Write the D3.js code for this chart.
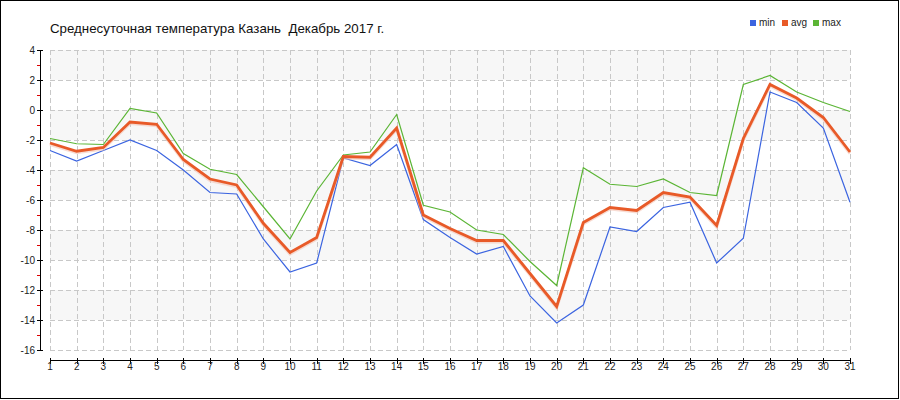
<!DOCTYPE html>
<html><head><meta charset="utf-8">
<script src="https://cdn.jsdelivr.net/npm/d3@7"></script>
<style>body{margin:0;background:#fff}svg{display:block}</style>
</head><body><svg id="c" width="900" height="400"></svg>
<script>
const title = "Среднесуточная температура Казань  Декабрь 2017 г.";
const days = d3.range(1, 32);
const minT = [-2.7,-3.4,-2.7,-2.0,-2.7,-4.0,-5.5,-5.6,-8.6,-10.8,-10.2,-3.2,-3.7,-2.3,-7.3,-8.5,-9.6,-9.1,-12.4,-14.2,-13.0,-7.8,-8.1,-6.5,-6.15,-10.2,-8.55,1.2,0.5,-1.2,-6.15];
const avgT = [-2.2,-2.75,-2.5,-0.8,-0.95,-3.3,-4.6,-5.0,-7.55,-9.5,-8.5,-3.1,-3.15,-1.2,-7.0,-7.9,-8.7,-8.7,-10.9,-13.1,-7.5,-6.5,-6.7,-5.5,-5.8,-7.7,-1.9,1.7,0.8,-0.5,-2.8];
const maxT = [-1.9,-2.25,-2.3,0.1,-0.2,-2.9,-3.95,-4.3,-6.45,-8.6,-5.4,-3.0,-2.8,-0.3,-6.35,-6.8,-8.0,-8.3,-10.1,-11.7,-3.85,-4.95,-5.1,-4.6,-5.5,-5.7,1.7,2.3,1.2,0.5,-0.1];
const yTicks = d3.range(-16, 5, 2);
const yMinor = d3.range(-15, 4, 2);
const seriesNames = ["min","avg","max"];
const colors = {min:"#3b64e0", avg:"#e85a28", max:"#5bb535"};

const svg = d3.select("#c");
svg.append("rect").attr("x",0.5).attr("y",0.5).attr("width",898).attr("height",398)
  .attr("fill","#fff").attr("stroke","#000");

const x = d3.scaleLinear().domain([1,31]).range([50,850]);
const y = d3.scaleLinear().domain([-16,4]).range([350,50]);

// bands
const bands = [[2,4],[-2,0],[-6,-4],[-10,-8],[-14,-12]];
svg.append("g").selectAll("rect").data(bands).join("rect")
  .attr("x", x(1)).attr("width", x(31)-x(1))
  .attr("y", d=>y(d[1])).attr("height", d=>y(d[0])-y(d[1]))
  .attr("fill","#f7f7f7");

// grid
const grid = svg.append("g").attr("stroke","#c8c8c8").attr("stroke-dasharray","5,3").attr("shape-rendering","crispEdges");
grid.selectAll("line.v").data(days).join("line").attr("class","v")
  .attr("x1",d=>Math.round(x(d))+0.5).attr("x2",d=>Math.round(x(d))+0.5)
  .attr("y1",y(4)).attr("y2",y(-16));
grid.selectAll("line.h").data(yTicks).join("line").attr("class","h")
  .attr("y1",d=>y(d)+0.5).attr("y2",d=>y(d)+0.5)
  .attr("x1",x(1)).attr("x2",x(31));

// y axis
const ya = svg.append("g").attr("shape-rendering","crispEdges");
ya.append("line").attr("x1",40.5).attr("x2",40.5).attr("y1",y(4)).attr("y2",y(-16)+1).attr("stroke","#000");
ya.selectAll("line.t").data(yTicks).join("line").attr("class","t")
  .attr("x1",37).attr("x2",43).attr("y1",d=>y(d)+0.5).attr("y2",d=>y(d)+0.5).attr("stroke","#000");
ya.selectAll("line.m").data(yMinor).join("line").attr("class","m")
  .attr("x1",37).attr("x2",40).attr("y1",d=>y(d)+0.5).attr("y2",d=>y(d)+0.5).attr("stroke","#d00");
ya.selectAll("text").data(yTicks).join("text")
  .attr("x",35).attr("y",d=>y(d)).attr("dy","0.35em").attr("text-anchor","end")
  .attr("font-family","Liberation Sans, Arial, sans-serif").attr("font-size",10).attr("fill","#222")
  .text(d=>d);

// x axis
const xa = svg.append("g").attr("shape-rendering","crispEdges");
xa.append("line").attr("x1",x(1)).attr("x2",x(31)+1).attr("y1",360.5).attr("y2",360.5).attr("stroke","#000");
xa.selectAll("line.t").data(days).join("line").attr("class","t")
  .attr("x1",d=>Math.round(x(d))+0.5).attr("x2",d=>Math.round(x(d))+0.5).attr("y1",358).attr("y2",364).attr("stroke","#000");
xa.selectAll("text").data(days).join("text")
  .attr("x",d=>x(d)).attr("y",370).attr("text-anchor","middle")
  .attr("font-family","Liberation Sans, Arial, sans-serif").attr("font-size",10).attr("fill","#222")
  .text(d=>d);

// lines
const line = d3.line().x((d,i)=>x(days[i])).y(d=>y(d));
svg.append("path").datum(minT).attr("d",line).attr("fill","none").attr("stroke",colors.min).attr("stroke-width",1.2);
svg.append("path").datum(maxT).attr("d",line).attr("fill","none").attr("stroke",colors.max).attr("stroke-width",1.2);
svg.append("path").datum(avgT).attr("d",line).attr("fill","none").attr("stroke","#f3c4b6").attr("stroke-width",3)
  .attr("transform","translate(0,1.5)").attr("opacity",0.6);
svg.append("path").datum(avgT).attr("d",line).attr("fill","none").attr("stroke",colors.avg).attr("stroke-width",2.8);

// title
svg.append("text").attr("x",50).attr("y",33).attr("font-family","Liberation Sans, Arial, sans-serif")
  .attr("font-size",13.3).attr("fill","#111").style("white-space","pre").text(title);

// legend
const legX = [750, 782, 813];
const lg = svg.append("g").attr("font-family","Liberation Sans, Arial, sans-serif").attr("font-size",10).attr("fill","#222");
lg.selectAll("rect").data(seriesNames).join("rect")
  .attr("x",(d,i)=>legX[i]).attr("y",20).attr("width",6).attr("height",6).attr("fill",d=>colors[d]);
lg.selectAll("text").data(seriesNames).join("text")
  .attr("x",(d,i)=>legX[i]+9).attr("y",26).text(d=>d);
</script></body></html>
